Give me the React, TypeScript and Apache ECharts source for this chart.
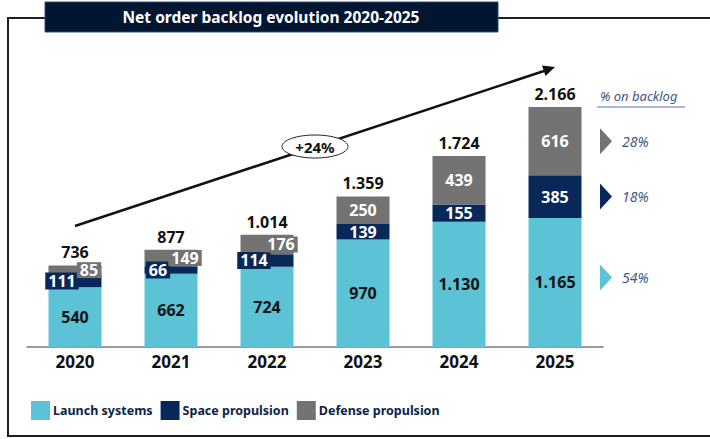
import React, { useEffect, useRef } from "react";
import * as echarts from "echarts";

const years = ["2020", "2021", "2022", "2023", "2024", "2025"];
const launchSystems = [540, 662, 724, 970, 1130, 1165];
const spacePropulsion = [111, 66, 114, 139, 155, 385];
const defensePropulsion = [85, 149, 176, 250, 439, 616];
// share of the 2025 backlog: launch, space, defense
const backlogShare = [54, 18, 28];
const growthLabel = "+24%";
const titleText = "Net order backlog evolution 2020-2025";
const shareHeader = "% on backlog";

const CYAN = "#5bc3d5";
const NAVY = "#08285a";
const GREY = "#737373";
const FONT = "'Noto Sans', 'Open Sans', sans-serif";

const fmt = (n: number) => String(n).replace(/\B(?=(\d{3})+(?!\d))/g, ".");

export default function App() {
  const ref = useRef<HTMLDivElement>(null);

  useEffect(() => {
    if (!ref.current) return;
    const chart = echarts.init(ref.current, undefined, { renderer: "svg" });
    const totals = years.map((_, i) => launchSystems[i] + spacePropulsion[i] + defensePropulsion[i]);
    const smallCount = 3;

    const baseLabel = { show: true, position: "inside", fontFamily: FONT, fontWeight: "bold", fontSize: 16 } as any;

    chart.setOption({
      animation: false,
      textStyle: { fontFamily: FONT },
      grid: { left: 27, right: 107, top: 70, bottom: 92, containLabel: false },
      legend: {
        data: ["Launch systems", "Space propulsion", "Defense propulsion"],
        left: 31,
        top: 401,
        padding: 0,
        itemWidth: 19,
        itemHeight: 19,
        itemGap: 8,
        icon: "rect",
        textStyle: { fontFamily: FONT, fontWeight: "bold", fontSize: 12.5, color: "#0b2347", padding: [0, 0, 0, -2] },
      },
      xAxis: {
        type: "category",
        data: years,
        axisLine: { lineStyle: { color: "#7a7a7a", width: 1.5 } },
        axisTick: { show: false },
        axisLabel: { fontFamily: FONT, fontWeight: "bold", fontSize: 17, color: "#111", margin: 6 },
      },
      yAxis: { type: "value", min: 0, max: 2500, show: false, splitLine: { show: false } },
      series: [
        {
          name: "Launch systems",
          type: "bar",
          stack: "b",
          barWidth: 53,
          itemStyle: { color: CYAN },
          label: { ...baseLabel, color: "#111", formatter: (p: any) => fmt(p.value) },
          data: launchSystems,
        },
        {
          name: "Space propulsion",
          type: "bar",
          stack: "b",
          barWidth: 53,
          itemStyle: { color: NAVY },
          label: { ...baseLabel, color: "#fff", formatter: (p: any) => fmt(p.value) },
          data: spacePropulsion.map((v, i) =>
            i < smallCount
              ? { value: v, label: { offset: [-13, 0], backgroundColor: NAVY, padding: [1, 3, 0, 3], lineHeight: 16 } }
              : v
          ),
        },
        {
          name: "Defense propulsion",
          type: "bar",
          stack: "b",
          barWidth: 53,
          itemStyle: { color: GREY },
          label: { ...baseLabel, color: "#fff", formatter: (p: any) => fmt(p.value) },
          data: defensePropulsion.map((v, i) =>
            i < smallCount
              ? { value: v, label: { offset: [14, 0], backgroundColor: GREY, padding: [0, 3, 0, 3], lineHeight: 16 } }
              : v
          ),
        },
        {
          name: "Total",
          type: "bar",
          stack: "b",
          barWidth: 53,
          itemStyle: { color: "transparent" },
          label: {
            show: true,
            position: "top",
            distance: 5,
            lineHeight: 16,
            fontFamily: FONT,
            fontWeight: "bold",
            fontSize: 16,
            color: "#111",
            formatter: (p: any) => fmt(totals[p.dataIndex]),
          },
          data: years.map(() => 0),
        },
      ],
    });

    const last = years.length - 1;
    const xr = chart.convertToPixel({ xAxisIndex: 0 }, years[last]) as number;
    const yOf = (v: number) => chart.convertToPixel({ yAxisIndex: 0 }, v) as number;
    const L = launchSystems[last];
    const S = spacePropulsion[last];
    const D = defensePropulsion[last];
    const centers = [yOf(L / 2) - 5, yOf(L + S / 2), yOf(L + S + D / 2)];
    const colors = [CYAN, NAVY, GREY];
    const tx = xr + 45;
    const headerY = yOf(totals[last]) - 11;

    const shareGraphics: any[] = [];
    centers.forEach((cy, k) => {
      shareGraphics.push({
        type: "polygon",
        shape: { points: [[tx, cy - 13], [tx + 12, cy], [tx, cy + 13]] },
        style: { fill: colors[k] },
      });
      shareGraphics.push({
        type: "text",
        x: tx + 22,
        y: cy,
        style: {
          text: backlogShare[k] + "%",
          font: `italic 14px ${FONT}`,
          fill: "#3c5a88",
          verticalAlign: "middle",
        },
      });
    });

    chart.setOption({
      graphic: [
        {
          type: "rect",
          shape: { x: 8, y: 18, width: 720, height: 418 },
          style: { fill: "none", stroke: "#1b1f2a", lineWidth: 2 },
          silent: true,
        },
        {
          type: "rect",
          shape: { x: 45, y: 2, width: 453, height: 30 },
          style: { fill: "#021631", stroke: "#2c4c7c", lineWidth: 1 },
        },
        {
          type: "text",
          x: 271,
          y: 17,
          style: {
            text: titleText,
            font: `bold 15.5px ${FONT}`,
            fill: "#ffffff",
            align: "center",
            verticalAlign: "middle",
          },
        },
        {
          type: "line",
          shape: { x1: 75, y1: 226, x2: 544, y2: 71 },
          style: { stroke: "#111", lineWidth: 2.5 },
        },
        {
          type: "polygon",
          shape: { points: [[555, 67], [545.5, 76], [542, 65.5]] },
          style: { fill: "#111" },
        },
        {
          type: "ellipse",
          shape: { cx: 315, cy: 146.5, rx: 33, ry: 11.5 },
          style: { fill: "#fff", stroke: "#222", lineWidth: 1 },
        },
        {
          type: "text",
          x: 315,
          y: 147,
          style: {
            text: growthLabel,
            font: `bold 15px ${FONT}`,
            fill: "#111",
            align: "center",
            verticalAlign: "middle",
          },
        },
        {
          type: "text",
          x: tx,
          y: headerY,
          style: {
            text: shareHeader,
            font: `italic 13px ${FONT}`,
            fill: "#3c5a88",
            verticalAlign: "middle",
          },
        },
        {
          type: "line",
          shape: { x1: tx - 3, y1: headerY + 11, x2: tx + 85, y2: headerY + 11 },
          style: { stroke: "#5a76a0", lineWidth: 1 },
        },
        ...shareGraphics,
      ],
    });

    return () => chart.dispose();
  }, []);

  return (
    <div
      ref={ref}
      style={{ position: "fixed", left: 0, top: 0, width: 710, height: 439, background: "#fff" }}
    />
  );
}
